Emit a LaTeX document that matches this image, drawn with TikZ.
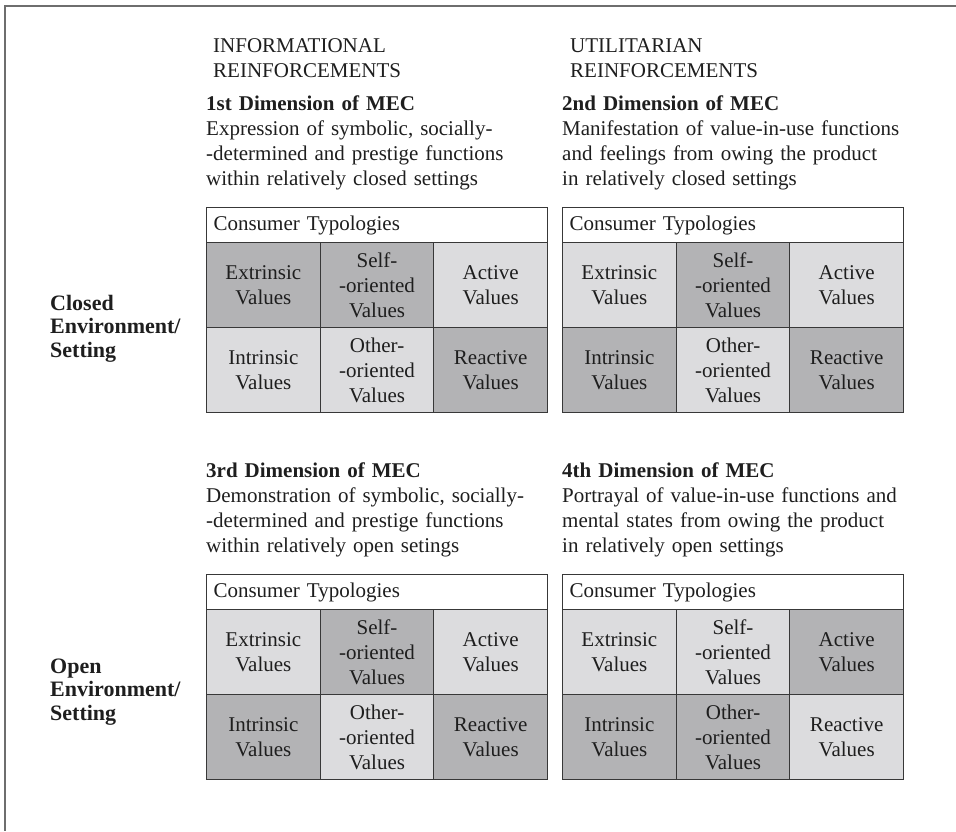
\documentclass[tikz,border=0pt]{standalone}
\usepackage{fontspec}
\setmainfont{Liberation Serif}

\definecolor{frameline}{HTML}{6E6E6E}
\definecolor{gridline}{HTML}{383838}
\definecolor{cellD}{HTML}{B3B3B5}
\definecolor{cellL}{HTML}{DCDCDE}
\definecolor{inkc}{HTML}{1E1E1E}

% one "Consumer Typologies" table: name, x, y of top-left corner, then six cell styles
\newcommand\typtable[9]{%
  \node[tabhead] (#1-h) at (#2,#3) {Consumer Typologies};
  \node[#4] (#1-ext)  at (#2,#3+35)        {Extrinsic\\Values};
  \node[#5] (#1-self) at (#2+113.67,#3+35) {Self-\\-oriented\\Values};
  \node[#6] (#1-act)  at (#2+227.33,#3+35) {Active\\Values};
  \node[#7] (#1-int)  at (#2,#3+120)        {Intrinsic\\Values};
  \node[#8] (#1-oth)  at (#2+113.67,#3+120) {Other-\\-oriented\\Values};
  \node[#9] (#1-rea)  at (#2+227.33,#3+120) {Reactive\\Values};
}

\begin{document}
\begin{tikzpicture}[x=1pt,y=-1pt,
  every node/.style={text=inkc},
  bodyfont/.style={font=\fontsize{21}{25}\selectfont},
  textblock/.style={bodyfont, anchor=base west, inner sep=0pt, text width=345pt, align=left},
  sidelabel/.style={font=\fontsize{22}{23.5}\selectfont\bfseries, anchor=base west, inner sep=0pt, text width=140pt, align=left},
  tabhead/.style={bodyfont, draw=gridline, fill=white, line width=1.1pt, anchor=north west,
    minimum height=35pt, text width=327pt, inner xsep=7pt, inner ysep=0pt, align=left},
  cellbox/.style={bodyfont, draw=gridline, line width=1.1pt, anchor=north west,
    minimum width=113.67pt, minimum height=85pt, inner sep=0pt, align=center},
  dk/.style={cellbox, fill=cellD},
  lt/.style={cellbox, fill=cellL},
  frame/.style={draw=frameline, line width=2.5pt}
]
\useasboundingbox (0,0) rectangle (956,831);

% outer frame (top and left edges)
\draw[frame] (956,6) -- (5,6) -- (5,831);

% column headings
\node[textblock] (infohead) at (213,52) {INFORMATIONAL\\REINFORCEMENTS};
\node[textblock] (utilhead) at (570,52) {UTILITARIAN\\REINFORCEMENTS};

% dimension descriptions
\node[textblock] (dim1) at (206,110) {\textbf{1st Dimension of MEC}\\Expression of symbolic, socially-\\-determined and prestige functions\\within relatively closed settings};
\node[textblock] (dim2) at (562,110) {\textbf{2nd Dimension of MEC}\\Manifestation of value-in-use functions\\and feelings from owing the product\\in relatively closed settings};
\node[textblock] (dim3) at (206,477) {\textbf{3rd Dimension of MEC}\\Demonstration of symbolic, socially-\\-determined and prestige functions\\within relatively open setings};
\node[textblock] (dim4) at (562,477) {\textbf{4th Dimension of MEC}\\Portrayal of value-in-use functions and\\mental states from owing the product\\in relatively open settings};

% row labels
\node[sidelabel] (closedlab) at (50,310) {Closed\\Environment/\\Setting};
\node[sidelabel] (openlab) at (50,673) {Open\\Environment/\\Setting};

% the four typology tables
\typtable{t1}{206}{207}{dk}{dk}{lt}{lt}{lt}{dk}
\typtable{t2}{562}{207}{lt}{dk}{lt}{dk}{lt}{dk}
\typtable{t3}{206}{574}{lt}{dk}{lt}{dk}{lt}{dk}
\typtable{t4}{562}{574}{lt}{lt}{dk}{dk}{dk}{lt}
\end{tikzpicture}
\end{document}
